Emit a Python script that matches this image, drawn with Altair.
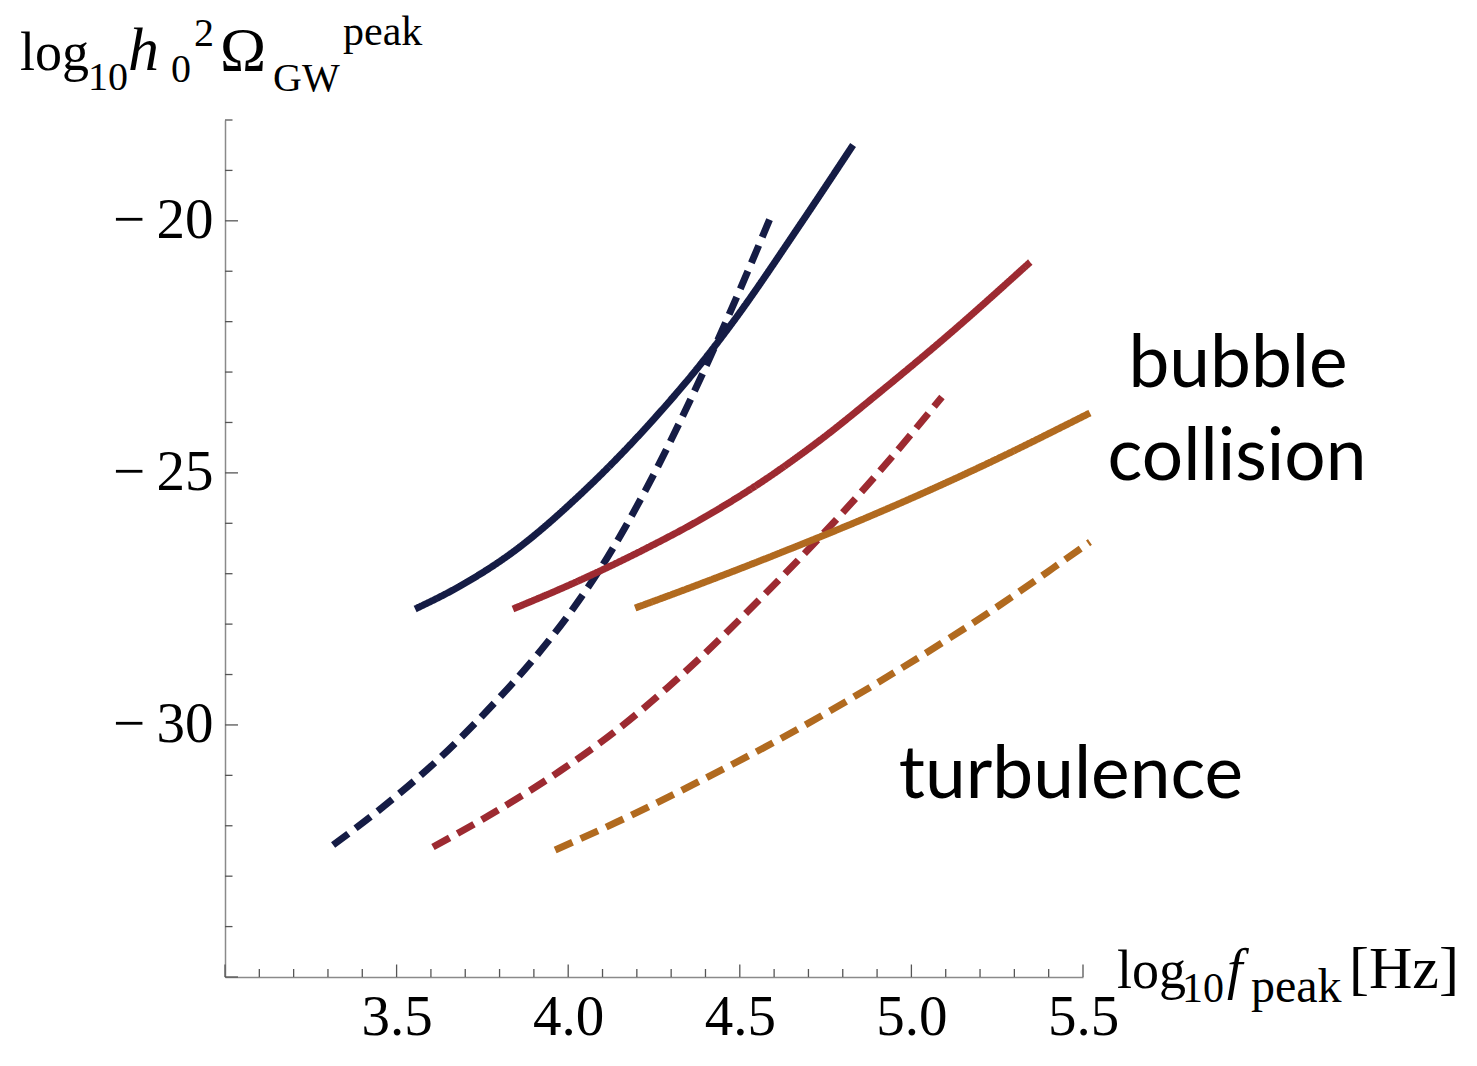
import altair as alt
import pandas as pd

# ---------------- data ----------------
NAVY_SOLID_X = [3.554, 3.685, 3.839, 4.043, 4.247, 4.384, 4.480, 4.675, 4.830]
NAVY_SOLID_Y = [-27.70, -27.244, -26.570, -25.379, -23.951, -22.860, -22.007, -20.083, -18.496]

NAVY_DASH_X = [3.315, 3.460, 3.626, 3.763, 3.897, 4.005, 4.113, 4.224, 4.335, 4.399, 4.463, 4.530, 4.591]
NAVY_DASH_Y = [-32.382, -31.628, -30.656, -29.724, -28.712, -27.780, -26.689, -25.360, -23.852, -22.920, -21.948, -20.896, -19.904]

RED_SOLID_X = [3.839, 4.034, 4.218, 4.384, 4.559, 4.734, 4.908, 5.104, 5.346]
RED_SOLID_Y = [-27.70, -27.13, -26.53, -25.93, -25.20, -24.35, -23.40, -22.285, -20.82]

RED_DASH_X = [3.606, 3.801, 3.976, 4.142, 4.288, 4.384, 4.559, 4.734, 4.908, 5.089]
RED_DASH_Y = [-32.422, -31.668, -30.914, -30.101, -29.268, -28.673, -27.502, -26.272, -24.963, -23.495]

ORANGE_SOLID_X = [4.195, 4.384, 4.646, 4.908, 5.200, 5.520]
ORANGE_SOLID_Y = [-27.681, -27.204, -26.510, -25.776, -24.884, -23.812]

ORANGE_DASH_X = [3.962, 4.142, 4.384, 4.675, 4.967, 5.258, 5.413, 5.520]
ORANGE_DASH_Y = [-32.481, -31.926, -31.112, -30.061, -28.891, -27.621, -26.887, -26.371]

SERIES = ["navy", "red", "orange"]
COLORS = ["#151c45", "#9d2a31", "#b16a1f"]
STYLES = ["solid", "dashed"]

X_LABELS = [3.5, 4.0, 4.5, 5.0, 5.5]
Y_LABELS = [-30, -25, -20]
X_MAJOR = [3.0, 3.5, 4.0, 4.5, 5.0, 5.5]
X_MINOR = [3.1, 3.2, 3.3, 3.4, 3.6, 3.7, 3.8, 3.9, 4.1, 4.2, 4.3, 4.4,
           4.6, 4.7, 4.8, 4.9, 5.1, 5.2, 5.3, 5.4]
Y_MAJOR = [-35, -30, -25, -20]
Y_MINOR = [-34, -33, -32, -31, -29, -28, -27, -26, -24, -23, -22, -21, -19, -18]

# ---------------- build the long table ----------------
rows = []
def add(name, style, xs, ys):
    for xv, yv in zip(xs, ys):
        rows.append({"series": name, "style": style, "curve": name + "-" + style, "x": xv, "y": yv})

add("navy", "solid", NAVY_SOLID_X, NAVY_SOLID_Y)
add("navy", "dashed", NAVY_DASH_X, NAVY_DASH_Y)
add("red", "solid", RED_SOLID_X, RED_SOLID_Y)
add("red", "dashed", RED_DASH_X, RED_DASH_Y)
add("orange", "solid", ORANGE_SOLID_X, ORANGE_SOLID_Y)
add("orange", "dashed", ORANGE_DASH_X, ORANGE_DASH_Y)
df = pd.DataFrame(rows)

W, H = 858, 857
SERIF = "Liberation Serif"
SANS = "Lato"
AXIS_GREY = "#8a8a8a"
TICK_GREY = "#555555"

xscale = alt.Scale(domain=[3.0, 5.5], nice=False, zero=False)
yscale = alt.Scale(domain=[-35, -18], nice=False, zero=False)

xaxis = alt.Axis(values=X_LABELS, format=".1f", ticks=False, grid=False, title=None,
                 domainColor=AXIS_GREY, domainWidth=1.5, labelFont=SERIF, labelFontSize=57,
                 labelColor="black", labelPadding=12, labelFlush=False, labelOverlap=False)
yaxis = alt.Axis(values=Y_LABELS, ticks=False, grid=False, title=None,
                 domainColor=AXIS_GREY, domainWidth=1.5, labelFont=SERIF, labelFontSize=57,
                 labelColor="black", labelPadding=12, labelFlush=False, labelOverlap=False,
                 labelExpr="'\u2212\u2009' + format(abs(datum.value), 'd')")

lines = alt.Chart(df).mark_line(strokeWidth=7, strokeCap="butt", interpolate="monotone", clip=False).encode(
    x=alt.X("x:Q", scale=xscale, axis=xaxis),
    y=alt.Y("y:Q", scale=yscale, axis=yaxis),
    color=alt.Color("series:N", scale=alt.Scale(domain=SERIES, range=COLORS), legend=None),
    strokeDash=alt.StrokeDash("style:N", scale=alt.Scale(domain=STYLES, range=[[1, 0], [19, 9]]), legend=None),
    detail="curve:N",
)

def xticks(vals, length):
    return alt.Chart(pd.DataFrame({"x": vals})).mark_rule(color=TICK_GREY, strokeWidth=1.3).encode(
        x=alt.X("x:Q", scale=xscale, axis=xaxis),
        y=alt.value(H), y2=alt.value(H - length))

def yticks(vals, length):
    return alt.Chart(pd.DataFrame({"y": vals})).mark_rule(color=TICK_GREY, strokeWidth=1.3).encode(
        y=alt.Y("y:Q", scale=yscale, axis=yaxis),
        x=alt.value(0), x2=alt.value(length))

def txt(s, x, y, size, family=SERIF, italic=False, align="left"):
    return alt.Chart(pd.DataFrame({"t": [s]})).mark_text(
        align=align, baseline="alphabetic", fontSize=size, font=family,
        fontStyle="italic" if italic else "normal", color="black").encode(
        text="t:N", x=alt.value(x), y=alt.value(y))

# y-axis title: log10 h0^2 Omega_GW^peak
ytitle = [
    txt("log", -205, -50, 54),
    txt("10", -137, -30, 40),
    txt("h", -97, -50, 62, italic=True),
    txt("0", -54, -38, 40),
    txt("2", -31, -74, 40),
    txt("\u03a9", -5, -50, 62),
    txt("GW", 48, -29, 40),
    txt("peak", 118, -75, 42),
]
# x-axis title: log10 f_peak [Hz]
xtitle = [
    txt("log", 892, 868, 54),
    txt("10", 957, 882, 42),
    txt("f", 1002, 868, 56, italic=True),
    txt("peak", 1026, 882, 48),
    txt("[Hz]", 1124, 868, 60),
]
notes = [
    txt("bubble", 1013, 267, 73, family=SANS, align="center"),
    txt("collision", 1012, 360, 73, family=SANS, align="center"),
    txt("turbulence", 846, 678, 73, family=SANS, align="center"),
]

chart = alt.layer(
    xticks(X_MINOR, 8), xticks(X_MAJOR, 12.5),
    yticks(Y_MINOR, 7.5), yticks(Y_MAJOR, 13),
    lines, *ytitle, *xtitle, *notes,
).properties(
    width=W, height=H, autosize="none",
    padding={"left": 217, "top": 112, "right": 380, "bottom": 81},
).configure_view(stroke=None)

chart.save("out.html", embed_options={"renderer": "svg", "actions": False})
